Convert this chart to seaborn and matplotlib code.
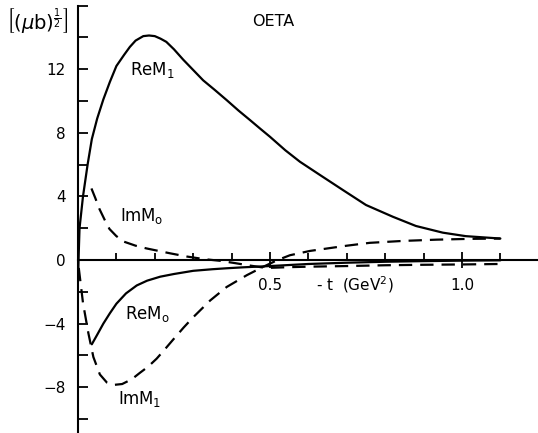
import matplotlib
matplotlib.use("Agg")
import matplotlib.pyplot as plt
import seaborn as sns
import pandas as pd

# ---- data ----
t_rem1 = [0.0, 0.002, 0.004, 0.013, 0.025, 0.036, 0.05, 0.066, 0.083, 0.10, 0.12, 0.135,
          0.15, 0.17, 0.185, 0.20, 0.215, 0.23, 0.25, 0.274, 0.30, 0.326, 0.356, 0.387,
          0.418, 0.448, 0.475, 0.50, 0.54, 0.578, 0.63, 0.69, 0.75, 0.82, 0.88, 0.95, 1.01, 1.10]
v_rem1 = [-1.3, 0.5, 2.0, 4.0, 6.0, 7.6, 8.9, 10.1, 11.2, 12.2, 12.9, 13.4,
          13.8, 14.08, 14.12, 14.08, 13.92, 13.72, 13.25, 12.6, 11.95, 11.3, 10.7, 10.06,
          9.4, 8.8, 8.25, 7.75, 6.9, 6.18, 5.35, 4.4, 3.46, 2.72, 2.14, 1.72, 1.5, 1.35]

t_imm0 = [0.035, 0.045, 0.056, 0.07, 0.082, 0.10, 0.12, 0.15, 0.178, 0.20, 0.24, 0.283,
          0.33, 0.37, 0.41, 0.448, 0.49, 0.55, 0.60, 0.70, 0.80, 0.90, 1.00, 1.10]
v_imm0 = [4.5, 3.9, 3.2, 2.5, 1.95, 1.5, 1.15, 0.9, 0.73, 0.62, 0.42, 0.22,
          0.05, -0.05, -0.2, -0.35, -0.5, -0.45, -0.42, -0.38, -0.33, -0.3, -0.28, -0.25]

t_rem0 = [0.036, 0.05, 0.066, 0.083, 0.10, 0.125, 0.153, 0.18, 0.214, 0.25, 0.30, 0.35,
          0.387, 0.43, 0.465, 0.50, 0.60, 0.70, 0.80, 0.90, 1.00, 1.10]
v_rem0 = [-5.3, -4.7, -4.0, -3.35, -2.75, -2.1, -1.6, -1.3, -1.05, -0.88, -0.68, -0.58,
          -0.52, -0.46, -0.42, -0.38, -0.25, -0.17, -0.11, -0.07, -0.04, -0.02]

t_imm1 = [0.002, 0.013, 0.027, 0.04, 0.057, 0.075, 0.095, 0.115, 0.14, 0.161, 0.183, 0.205,
          0.225, 0.248, 0.275, 0.30, 0.344, 0.387, 0.44, 0.483, 0.52, 0.552, 0.604, 0.656,
          0.70, 0.76, 0.846, 0.934, 1.02, 1.10]
v_imm1 = [-0.5, -2.7, -4.6, -6.1, -7.2, -7.7, -7.85, -7.8, -7.5, -7.1, -6.7, -6.2,
          -5.65, -5.0, -4.25, -3.6, -2.55, -1.7, -0.95, -0.42, 0.0, 0.3, 0.57, 0.75,
          0.9, 1.08, 1.2, 1.28, 1.33, 1.35]

y_major = [-8, -4, 0, 4, 8, 12]
y_minor = [-10, -6, -2, 2, 6, 10, 14, 16]
x_major = [0.5, 1.0]
x_major_labels = ["0.5", "1.0"]
x_minor = [0.1, 0.2, 0.3, 0.4, 0.6, 0.7, 0.8, 0.9, 1.1]

sns.set_theme(style="white")
plt.rcParams["font.family"] = ["DejaVu Sans"]

fig = plt.figure(figsize=(5.38, 4.33), dpi=100)
ax = fig.add_axes([78 / 538, 0.0, 460 / 538, (433 - 5.6) / 433])

lw = 1.6
dash = (6.0, 3.6)
for t, v, dashed in [(t_rem1, v_rem1, False), (t_imm0, v_imm0, True),
                     (t_rem0, v_rem0, False), (t_imm1, v_imm1, True)]:
    df = pd.DataFrame({"t": t, "v": v})
    sns.lineplot(data=df, x="t", y="v", ax=ax, color="black", lw=lw,
                 errorbar=None, estimator=None, sort=False)
    if dashed:
        ax.lines[-1].set_dashes(dash)

ax.set_xlim(0, 1.198)
ax.set_ylim(-10.88, 16)

for s in ["top", "right"]:
    ax.spines[s].set_visible(False)
ax.spines["bottom"].set_position(("data", 0))
ax.spines["left"].set_color("black")
ax.spines["bottom"].set_color("black")
ax.spines["left"].set_linewidth(1.5)
ax.spines["bottom"].set_linewidth(1.5)

ax.set_yticks(y_major)
ax.set_yticks(y_minor, minor=True)
ax.set_xticks(x_major)
ax.set_xticklabels(x_major_labels)
ax.set_xticks(x_minor, minor=True)

ax.tick_params(axis="y", which="both", direction="in", length=7, width=1.3,
               colors="black", labelsize=11, pad=9, left=True)
ax.tick_params(axis="x", which="minor", direction="in", length=5, width=1.3,
               colors="black", bottom=True)
ax.tick_params(axis="x", which="major", direction="inout", length=12, width=1.3,
               colors="black", labelsize=11, pad=7, bottom=True)

ax.set_xlabel("")
ax.set_ylabel("")

txt = dict(color="black", fontsize=12)
ax.text(0.508, 15.03, "OETA", ha="center", va="center", fontsize=11.5, color="black")
ax.text(0.135, 11.95, r"ReM$_1$", ha="left", va="center", **txt)
ax.text(0.109, 2.77, r"ImM$_\mathrm{o}$", ha="left", va="center", **txt)
ax.text(0.122, -3.4, r"ReM$_\mathrm{o}$", ha="left", va="center", **txt)
ax.text(0.104, -8.74, r"ImM$_1$", ha="left", va="center", **txt)
ax.text(0.72, -1.55, r"- t  (GeV$^2$)", ha="center", va="center", fontsize=11, color="black")

fig.text(6 / 538, (433 - 21) / 433, r"$\left[(\mu\mathrm{b})^{\frac{1}{2}}\right]$",
         ha="left", va="center", fontsize=14, color="black")

fig.savefig("out.png", dpi=100)
